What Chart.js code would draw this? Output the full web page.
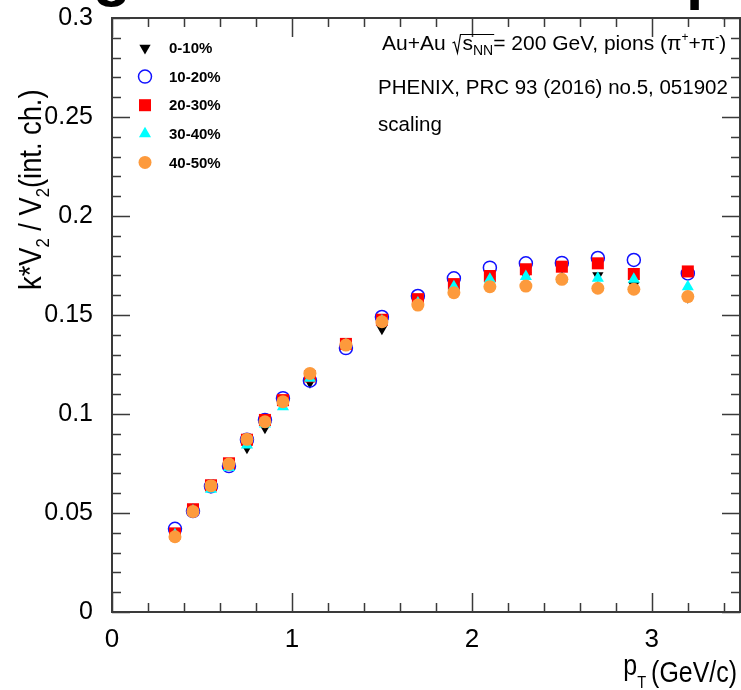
<!DOCTYPE html>
<html>
<head>
<meta charset="utf-8">
<script src="https://cdn.jsdelivr.net/npm/chart.js@4.4.0/dist/chart.umd.min.js"></script>
<style>
  html, body { margin: 0; padding: 0; background: #fff; overflow: hidden; }
</style>
</head>
<body>
<canvas id="v2Chart" width="741" height="690"></canvas>
<script>
// pT bin centres (GeV/c)
const ptBins = [0.35, 0.45, 0.55, 0.65, 0.75, 0.85, 0.95, 1.1, 1.3, 1.5, 1.7, 1.9, 2.1, 2.3, 2.5, 2.7, 2.9, 3.2];

// k*v2 / v2(int. ch.) per centrality class
const cent0_10  = [0.039, 0.051, 0.063, 0.076, 0.083, 0.093, 0.106, 0.116, 0.135, 0.143, 0.156, 0.164, 0.168, 0.170, 0.174, 0.170, 0.165, 0.159];
const cent10_20 = [0.042, 0.051, 0.0635, 0.0737, 0.087, 0.097, 0.108, 0.1168, 0.1333, 0.149, 0.1596, 0.1685, 0.1739, 0.1761, 0.1763, 0.1788, 0.1778, 0.171];
const cent20_30 = [0.0397, 0.0519, 0.064, 0.0751, 0.087, 0.097, 0.107, 0.119, 0.1354, 0.1476, 0.158, 0.1656, 0.1697, 0.1731, 0.1744, 0.1761, 0.1707, 0.172];
const cent30_40 = [0.039, 0.051, 0.062, 0.073, 0.0843, 0.095, 0.1037, 0.118, 0.135, 0.147, 0.156, 0.1643, 0.168, 0.1694, 0.168, 0.1685, 0.168, 0.1643];
const cent40_50 = [0.038, 0.0507, 0.0638, 0.0747, 0.0872, 0.0961, 0.1062, 0.1205, 0.1348, 0.1466, 0.155, 0.1613, 0.1643, 0.1646, 0.168, 0.1635, 0.163, 0.1593];

const centLabels = ["0-10%", "10-20%", "20-30%", "30-40%", "40-50%"];

// axis ticks
const xTicks = [0, 1, 2, 3];
const yTicks = [0, 0.05, 0.1, 0.15, 0.2, 0.25, 0.3];

const FONT = "'Liberation Sans', Arial, Helvetica, sans-serif";
const xMin = 0, xMax = 3.49, yMin = 0, yMax = 0.3;

const toPoints = (vals) => ptBins.map((p, i) => ({ x: p, y: vals[i] }));

// draw a run of text pieces (sub/superscripts) left to right, sx = horizontal squeeze
function drawRuns(ctx, runs, x, y, align, sx) {
  sx = sx || 1;
  let total = 0;
  runs.forEach((r) => {
    ctx.font = (r.bold ? "bold " : "") + r.size + "px " + FONT;
    r.w = r.gap != null ? r.gap : ctx.measureText(r.t).width * sx;
    total += r.w;
  });
  let cx = align === "right" ? x - total : x;
  const marks = {};
  runs.forEach((r) => {
    if (r.mark) marks[r.mark] = cx;
    if (r.t) {
      ctx.save();
      ctx.font = (r.bold ? "bold " : "") + r.size + "px " + FONT;
      ctx.translate(cx, y + (r.dy || 0));
      ctx.scale(sx, 1);
      ctx.fillText(r.t, 0, 0);
      ctx.restore();
    }
    cx += r.w;
    if (r.markEnd) marks[r.markEnd] = cx;
  });
  return marks;
}

const rootFrame = {
  id: "rootFrame",
  afterDraw(chart) {
    const { ctx, chartArea: a, scales: { x, y } } = chart;
    ctx.save();

    // ticks on all four sides, pointing inwards
    ctx.strokeStyle = "#3a3a3a";
    ctx.lineWidth = 1.5;
    ctx.beginPath();
    for (let i = 0; i * 0.2 <= xMax + 1e-9; i++) {
      const len = i % 5 === 0 ? 19 : 9;
      const px = Math.round(x.getPixelForValue(i * 0.2)) + 0.5;
      ctx.moveTo(px, a.bottom); ctx.lineTo(px, a.bottom - len);
      ctx.moveTo(px, a.top); ctx.lineTo(px, a.top + len);
    }
    for (let i = 0; i * 0.01 <= yMax + 1e-9; i++) {
      const len = i % 5 === 0 ? 18 : 9;
      const py = Math.round(y.getPixelForValue(i * 0.01)) + 0.5;
      ctx.moveTo(a.left, py); ctx.lineTo(a.left + len, py);
      ctx.moveTo(a.right, py); ctx.lineTo(a.right - len, py);
    }
    ctx.stroke();

    // frame
    ctx.lineWidth = 2;
    ctx.strokeRect(a.left, a.top, a.right - a.left, a.bottom - a.top);

    ctx.fillStyle = "#000";

    // legend
    chart.data.datasets.forEach((ds, i) => {
      const ly = 48 + i * 28.6;
      ctx.fillStyle = ds.backgroundColor;
      ctx.strokeStyle = ds.borderColor;
      ctx.lineWidth = ds.borderWidth;
      Chart.helpers.drawPoint(ctx, {
        pointStyle: ds.pointStyle,
        radius: ds.pointRadius,
        rotation: ds.rotation || 0,
        borderWidth: ds.borderWidth,
      }, 145, ly);
      ctx.fillStyle = "#000";
      ctx.textBaseline = "middle";
      ctx.font = "bold 15px " + FONT;
      ctx.fillText(ds.label, 169, ly + 1);
    });
    ctx.textBaseline = "alphabetic";

    // collision system text
    const m = drawRuns(ctx, [
      { t: "Au+Au ", size: 21 },
      { gap: 11, mark: "r0" },
      { t: "s", size: 21, mark: "s0" },
      { t: "NN", size: 14, dy: 5, markEnd: "s1" },
      { t: "= 200 GeV, pions (\u03C0", size: 21 },
      { t: "+", size: 12, dy: -9 },
      { t: "+\u03C0", size: 21 },
      { t: "-", size: 12, dy: -9 },
      { t: ")", size: 21 },
    ], 382, 50, "left", 1);
    ctx.strokeStyle = "#000";
    ctx.lineWidth = 1.2;
    ctx.beginPath();
    ctx.moveTo(m.r0 + 1, 43);
    ctx.lineTo(m.r0 + 3, 42);
    ctx.lineTo(m.r0 + 6, 53);
    ctx.lineTo(m.r0 + 9, 34.5);
    ctx.lineTo(m.s1 + 1, 34.5);
    ctx.stroke();

    ctx.font = "20.5px " + FONT;
    ctx.fillText("PHENIX, PRC 93 (2016) no.5, 051902", 378, 94);
    ctx.fillText("scaling", 378, 131);

    // x axis title
    drawRuns(ctx, [
      { t: "p", size: 29, dy: -7 },
      { t: "T", size: 17, dy: 6 },
      { gap: 5 },
      { t: "(GeV/c)", size: 29 },
    ], 737, 682, "right", 0.86);

    // y axis title
    ctx.save();
    ctx.translate(41, 290);
    ctx.rotate(-Math.PI / 2);
    drawRuns(ctx, [
      { t: "k*V", size: 31 },
      { t: "2", size: 19, dy: 8 },
      { t: " / V", size: 31 },
      { t: "2", size: 19, dy: 8 },
      { t: "(int. ch.)", size: 31 },
    ], 0, 0, "left", 0.88);
    ctx.restore();

    // title cut off at the top of the page
    ctx.font = "bold 62px " + FONT;
    ctx.fillText("g", 93, -6);
    ctx.fillText("p", 686, -3);

    ctx.restore();
  },
};

const ctx = document.getElementById("v2Chart");
new Chart(ctx, {
  type: "scatter",
  data: {
    datasets: [
      {
        label: centLabels[0],
        data: toPoints(cent0_10),
        pointStyle: "triangle",
        rotation: 180,
        pointRadius: 6.5,
        backgroundColor: "#000000",
        borderColor: "#000000",
        borderWidth: 0,
        order: 5,
      },
      {
        label: centLabels[1],
        data: toPoints(cent10_20),
        pointStyle: "circle",
        pointRadius: 6.5,
        backgroundColor: "rgba(0,0,0,0)",
        borderColor: "#1010ff",
        borderWidth: 1.5,
        order: 4,
      },
      {
        label: centLabels[2],
        data: toPoints(cent20_30),
        pointStyle: "rect",
        pointRadius: 8.5,
        backgroundColor: "#ff0000",
        borderColor: "#ff0000",
        borderWidth: 0,
        order: 3,
      },
      {
        label: centLabels[3],
        data: toPoints(cent30_40),
        pointStyle: "triangle",
        pointRadius: 7,
        backgroundColor: "#00ffff",
        borderColor: "#00ffff",
        borderWidth: 0,
        order: 2,
      },
      {
        label: centLabels[4],
        data: toPoints(cent40_50),
        pointStyle: "circle",
        pointRadius: 6.5,
        backgroundColor: "#fd9a3c",
        borderColor: "#fd9a3c",
        borderWidth: 0,
        order: 1,
      },
    ],
  },
  options: {
    responsive: false,
    animation: false,
    devicePixelRatio: 1,
    layout: { autoPadding: false, padding: { left: 0, top: 18, right: 1, bottom: 0 } },
    plugins: {
      legend: { display: false },
      tooltip: { enabled: false },
    },
    scales: {
      x: {
        type: "linear",
        min: xMin,
        max: xMax,
        grid: { display: false, drawTicks: false },
        border: { display: false },
        afterBuildTicks: (s) => { s.ticks = xTicks.map((v) => ({ value: v })); },
        afterFit: (s) => {
          s.height = 78;
          s.paddingLeft = 0; s.paddingRight = 0; s.paddingTop = 0; s.paddingBottom = 0;
        },
        ticks: {
          padding: 12,
          color: "#000",
          font: { family: FONT, size: 26 },
          callback: (v) => String(v),
        },
      },
      y: {
        type: "linear",
        min: yMin,
        max: yMax,
        grid: { display: false, drawTicks: false },
        border: { display: false },
        afterBuildTicks: (s) => { s.ticks = yTicks.map((v) => ({ value: v })); },
        afterFit: (s) => {
          s.width = 112;
          s.paddingLeft = 0; s.paddingRight = 0; s.paddingTop = 0; s.paddingBottom = 0;
        },
        ticks: {
          padding: 19,
          color: "#000",
          font: { family: FONT, size: 25 },
          callback: (v) => String(+v.toFixed(2)),
        },
      },
    },
  },
  plugins: [rootFrame],
});
</script>
</body>
</html>
